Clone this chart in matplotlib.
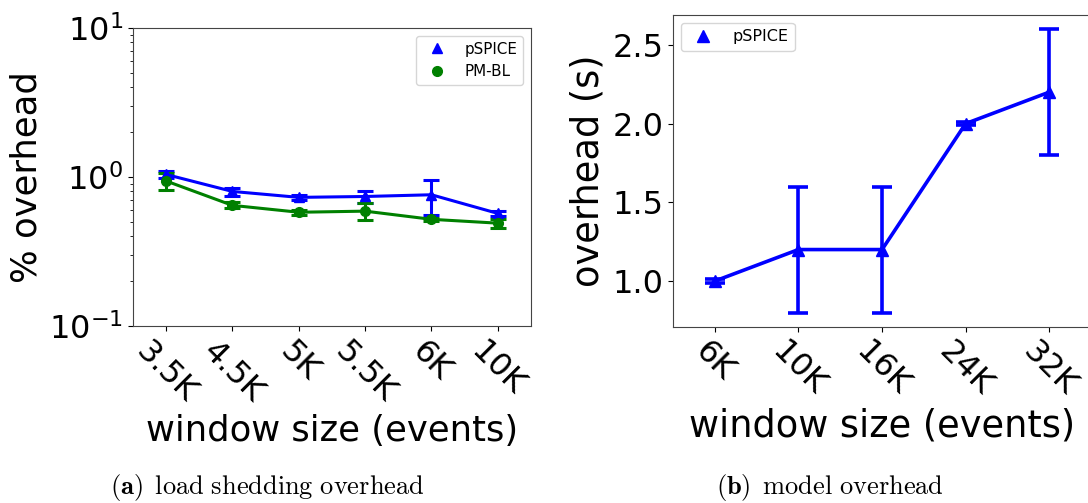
import matplotlib
matplotlib.use("Agg")
import matplotlib.pyplot as plt
import numpy as np

# (a) load shedding overhead
ls_windows = ["3.5K", "4.5K", "5K", "5.5K", "6K", "10K"]
pspice_ls = [1.04, 0.80, 0.73, 0.74, 0.76, 0.57]
pspice_ls_err = [0.05, 0.05, 0.03, 0.07, 0.20, 0.02]
pmbl_ls = [0.94, 0.645, 0.58, 0.59, 0.52, 0.49]
pmbl_ls_err = [0.12, 0.03, 0.02, 0.075, 0.01, 0.035]

# (b) model overhead
model_windows = ["6K", "10K", "16K", "24K", "32K"]
pspice_model = [1.0, 1.2, 1.2, 2.0, 2.2]
pspice_model_err = [0.01, 0.4, 0.4, 0.01, 0.4]

TICK = 23
LABEL = 25.5

fig = plt.figure(figsize=(10.88, 5.03), dpi=100)

# -------------------------
# left: load shedding
# -------------------------
ax1 = fig.add_axes([0.1222, 0.3519, 0.3658, 0.5924])
x1 = np.arange(len(ls_windows))
ax1.errorbar(x1, pspice_ls, yerr=pspice_ls_err, color="blue", marker="^", ms=7,
             lw=2.2, elinewidth=2.2, capsize=5.5, capthick=2.2)
ax1.errorbar(x1, pmbl_ls, yerr=pmbl_ls_err, color="green", marker="o", ms=7,
             lw=2.2, elinewidth=2.2, capsize=5.5, capthick=2.2)
ax1.plot([], [], "^", color="blue", ms=7, label="pSPICE")
ax1.plot([], [], "o", color="green", ms=7, label="PM-BL")
ax1.legend(loc="upper right", fontsize=10.9)

ax1.set_yscale("log")
ax1.set_ylim(0.1, 10)
ax1.set_xlim(-0.5, len(ls_windows) - 0.5)
ax1.set_xticks(x1)
ax1.set_xticklabels(ls_windows, rotation=-45, fontsize=TICK)
ax1.tick_params(axis="y", labelsize=TICK)
ax1.set_xlabel("window size (events)", fontsize=LABEL)
ax1.set_ylabel("% overhead", fontsize=LABEL)

# -------------------------
# right: model overhead
# -------------------------
ax2 = fig.add_axes([0.6186, 0.3505, 0.3842, 0.6197])
x2 = np.arange(len(model_windows))
ax2.errorbar(x2, pspice_model, yerr=pspice_model_err, color="blue", marker="^", ms=8,
             lw=2.6, elinewidth=2.6, capsize=7, capthick=2.6)
ax2.plot([], [], "^", color="blue", ms=8, label="pSPICE")
ax2.legend(loc="upper left", fontsize=11.5)

ax2.set_xlim(-0.5, len(model_windows) - 0.5)
ax2.set_xticks(x2)
ax2.set_xticklabels(model_windows, rotation=-45, fontsize=TICK)
ax2.tick_params(axis="y", labelsize=TICK)
ax2.set_yticks([1.0, 1.5, 2.0, 2.5])
ax2.set_xlabel("window size (events)", fontsize=26.5)
ax2.set_ylabel("overhead (s)", fontsize=26.5)

for ax in (ax1, ax2):
    for s in ax.spines.values():
        s.set_color("#444444")

# captions
fig.text(0.2459, 0.03, r"$\mathbf{(a)}\enspace\mathrm{load\ shedding\ overhead}$",
         math_fontfamily="cm", ha="center", va="center", fontsize=19)
fig.text(0.763, 0.03, r"$\mathbf{(b)}\enspace\mathrm{model\ overhead}$",
         math_fontfamily="cm", ha="center", va="center", fontsize=19)

plt.savefig("out.png", dpi=100)
